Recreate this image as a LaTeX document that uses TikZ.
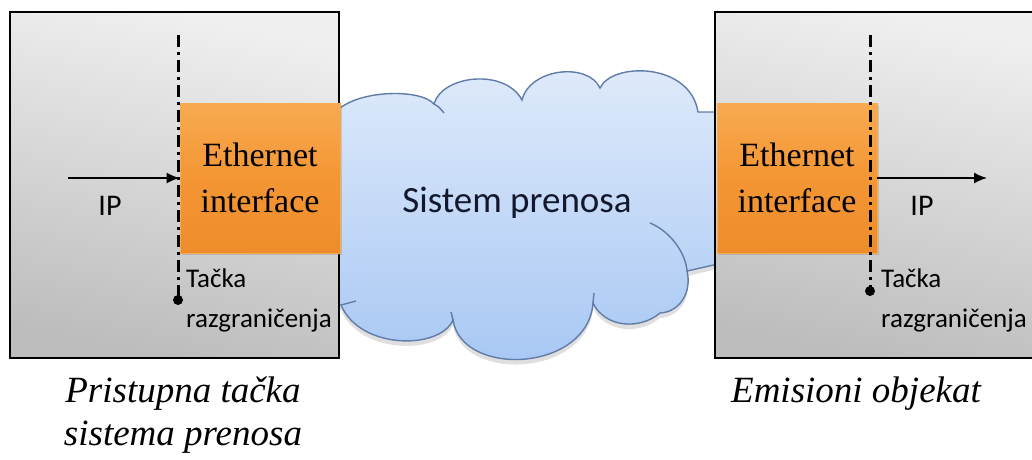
\documentclass[tikz,border=0pt]{standalone}
\usepackage{fontspec}
\setmainfont{Liberation Serif}
\newfontfamily\calibfont{Carlito}
\usetikzlibrary{arrows.meta,shadows}

\definecolor{ethorange}{RGB}{244,150,52}
\definecolor{ethlight}{RGB}{248,170,80}
\definecolor{ethdark}{RGB}{238,140,42}
\definecolor{cloudtop}{RGB}{224,235,251}
\definecolor{cloudbot}{RGB}{165,198,243}
\definecolor{cloudline}{RGB}{96,124,168}
\definecolor{sysink}{RGB}{20,24,45}

\begin{document}
\begin{tikzpicture}[x=1pt, y=1pt,
		graybox/.style = {draw=black, line width=2pt, inner sep=0pt,
				minimum width=329pt, minimum height=346pt,
				top color=gray!12, bottom color=gray!52, shading angle=-12},
		ethbox/.style = {draw=ethlight, line width=0.8pt, inner sep=0pt, align=center,
				minimum width=160pt, minimum height=150pt,
				top color=ethlight, bottom color=ethdark, middle color=ethorange,
				drop shadow={opacity=0.3, shadow xshift=2pt, shadow yshift=-2pt},
				font=\fontsize{34}{46}\selectfont},
		demarc/.style = {line width=3pt, dash pattern=on 12pt off 5pt on 3pt off 5pt},
		iparrow/.style = {-{Latex[length=13pt, width=11pt]}, line width=1.6pt},
		lbl/.style = {inner sep=0pt, font=\calibfont\fontsize{27}{40}\selectfont},
		caption/.style = {inner sep=0pt, align=center, font=\itshape\fontsize{37}{43}\selectfont},
		cloudstroke/.style = {draw=cloudline, line width=1.4pt},
	]
	\useasboundingbox (0,0) rectangle (1032,-459);

	% oblak
	\shadedraw[top color=cloudtop, bottom color=cloudbot, cloudstroke,
		drop shadow={opacity=0.25, shadow xshift=0pt, shadow yshift=-5pt}]
	(336,-112) .. controls (355,-90) and (420,-88) .. (434,-104)
	.. controls (442,-75) and (505,-68) .. (522,-100)
	.. controls (530,-68) and (588,-62) .. (600,-88)
	.. controls (612,-62) and (690,-62) .. (698,-112)
	-- (718,-112) -- (718,-264) -- (687,-271)
	.. controls (692,-292) and (680,-312) .. (660,-313)
	.. controls (640,-330) and (605,-328) .. (593,-303)
	.. controls (588,-372) and (462,-378) .. (453,-320)
	.. controls (440,-350) and (360,-350) .. (341,-305)
	-- (336,-305) -- cycle;
	\draw[cloudstroke] (650,-223) .. controls (672,-232) and (686,-255) .. (687,-271);
	\draw[cloudstroke] (434,-104) .. controls (439,-107) .. (444,-113);
	\draw[cloudstroke] (341,-305) -- (356,-301);
	\draw[cloudstroke] (593,-303) -- (594,-293);
	\draw[cloudstroke] (453,-320) -- (451,-312);
	\node[font=\calibfont\fontsize{37}{44}\selectfont, color=sysink] (sys) at (517,-203) {Sistem prenosa};

	% pristupna tacka / emisioni objekat
	\node[graybox] (accL) at (174.5,-185) {};
	\node[graybox, minimum width=330pt] (emiR) at (880,-185) {};

	\node[ethbox] (ethL) at (260,-178) {Ethernet\\interface};
	\node[ethbox] (ethR) at (797,-178) {Ethernet\\interface};

	% tacke razgranicenja
	\coordinate (topL) at (178,-35);
	\coordinate (dotL) at (178,-300);
	\coordinate (topR) at (870,-35);
	\coordinate (dotR) at (870,-291);
	\draw[demarc] (topL) -- (dotL);
	\draw[demarc] (topR) -- (dotR);
	\fill (dotL) circle (5);
	\fill (dotR) circle (5);

	\coordinate (ipL) at (68,-178);
	\coordinate (ipR) at (987,-178);
	\draw[iparrow] (ipL) -- (ethL.west);
	\draw[iparrow] (ethR.east) -- (ipR);
	\node[lbl, font=\calibfont\fontsize{30}{36}\selectfont] (ipLtxt) at (110,-206) {IP};
	\node[lbl, font=\calibfont\fontsize{30}{36}\selectfont] (ipRtxt) at (922,-206) {IP};

	\node[lbl, anchor=north west, align=left] (tackaL) at (186,-269) {Tačka\\razgraničenja};
	\node[lbl, anchor=north west, align=left] (tackaR) at (881,-269) {Tačka\\razgraničenja};

	\node[caption, anchor=north] (capL) at (183,-377) {Pristupna tačka\\sistema prenosa};
	\node[caption, anchor=north] (capR) at (856,-377) {Emisioni objekat};
\end{tikzpicture}
\end{document}
